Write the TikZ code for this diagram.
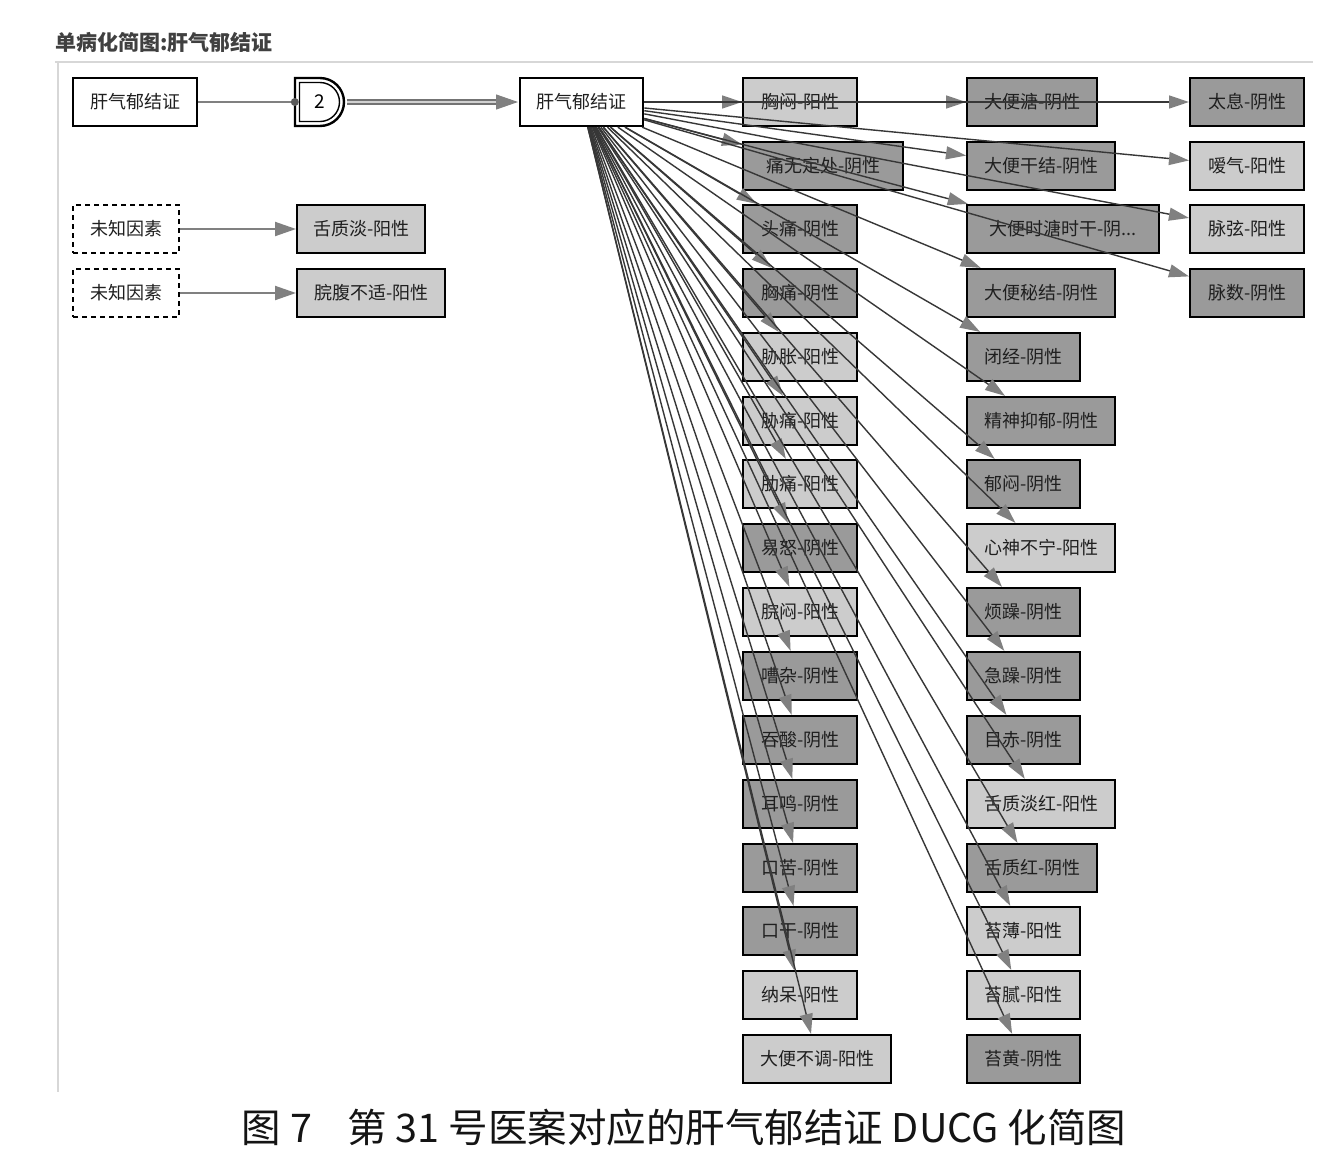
\documentclass[tikz,border=0pt]{standalone}
\usepackage{fontspec}
\setmainfont{Noto Sans CJK SC}
\usetikzlibrary{arrows.meta,calc}
\definecolor{lightfill}{RGB}{204,204,204}
\definecolor{darkfill}{RGB}{154,154,154}
\definecolor{arrowgray}{RGB}{128,128,128}
\definecolor{linegray}{RGB}{55,55,55}
\definecolor{framegray}{RGB}{215,215,215}
\begin{document}
\begin{tikzpicture}[x=1pt,y=-1pt,
  box/.style={draw=black, line width=2.3pt, minimum height=48pt, inner sep=0pt, anchor=west,
              font=\fontsize{18}{18}\selectfont, text=black!88},
  posbox/.style={box, fill=lightfill},
  negbox/.style={box, fill=darkfill},
  plainbox/.style={box, fill=white},
  unknownbox/.style={box, fill=white, dash pattern=on 5pt off 4pt, line width=2.4pt},
  symedge/.style={draw=linegray, line width=1.4pt, -{Triangle[length=20pt,width=13pt,color=arrowgray]}},
  softedge/.style={draw=arrowgray, line width=2pt, -{Triangle[length=21pt,width=14pt,color=arrowgray]}}
]
\useasboundingbox (0,0) rectangle (1323,1168);
\fill[white] (0,0) rectangle (1323,1168);

% title and frame
\node[anchor=west, font=\bfseries\fontsize{21}{21}\selectfont, text=black!75, inner sep=0pt] (title) at (55,42) {单病化简图:肝气郁结证};
\draw[framegray, line width=1.5pt] (55,62) -- (1313,62);
\draw[framegray, line width=1.5pt] (58,62) -- (58,1092);

% left part
\node[plainbox, minimum width=124pt] (A) at (72,102) {肝气郁结证};
\node[minimum width=50pt, minimum height=48pt, inner sep=0pt, font=\fontsize{19}{19}\selectfont] (G) at (320,102) {2};
\draw[line width=2.4pt] (295,78) -- (320,78) arc[start angle=-90, end angle=90, radius=24] -- (295,126) -- cycle;
\draw[line width=1.4pt] (299.5,82.5) -- (320,82.5) arc[start angle=-90, end angle=90, radius=19.5] -- (299.5,121.5) -- cycle;
\node[plainbox, minimum width=123pt] (M) at (519,102) {肝气郁结证};

\node[unknownbox, minimum width=106pt] (U1) at (72,229) {未知因素};
\node[posbox, minimum width=128pt] (S1) at (296,229) {舌质淡-阳性};
\node[unknownbox, minimum width=106pt] (U2) at (72,293) {未知因素};
\node[posbox, minimum width=148pt] (S2) at (296,293) {脘腹不适-阳性};

% left column
\node[posbox, minimum width=114pt] (l1) at (742,102) {胸闷-阳性};
\node[negbox, minimum width=160pt] (l2) at (742,166) {痛无定处-阴性};
\node[negbox, minimum width=114pt] (l3) at (742,229) {头痛-阴性};
\node[negbox, minimum width=114pt] (l4) at (742,293) {胸痛-阴性};
\node[posbox, minimum width=114pt] (l5) at (742,357) {胁胀-阳性};
\node[posbox, minimum width=114pt] (l6) at (742,421) {胁痛-阳性};
\node[posbox, minimum width=114pt] (l7) at (742,484) {肋痛-阳性};
\node[negbox, minimum width=114pt] (l8) at (742,548) {易怒-阴性};
\node[posbox, minimum width=114pt] (l9) at (742,612) {脘闷-阳性};
\node[negbox, minimum width=114pt] (l10) at (742,676) {嘈杂-阴性};
\node[negbox, minimum width=114pt] (l11) at (742,740) {吞酸-阴性};
\node[negbox, minimum width=114pt] (l12) at (742,804) {耳鸣-阴性};
\node[negbox, minimum width=114pt] (l13) at (742,868) {口苦-阴性};
\node[negbox, minimum width=114pt] (l14) at (742,931) {口干-阴性};
\node[posbox, minimum width=114pt] (l15) at (742,995) {纳呆-阳性};
\node[posbox, minimum width=148pt] (l16) at (742,1059) {大便不调-阳性};

% middle column
\node[negbox, minimum width=130pt] (m1) at (966,102) {大便溏-阴性};
\node[negbox, minimum width=148pt] (m2) at (966,166) {大便干结-阴性};
\node[negbox, minimum width=192pt] (m3) at (966,229) {大便时溏时干-阴...};
\node[negbox, minimum width=148pt] (m4) at (966,293) {大便秘结-阴性};
\node[negbox, minimum width=113pt] (m5) at (966,357) {闭经-阴性};
\node[negbox, minimum width=148pt] (m6) at (966,421) {精神抑郁-阴性};
\node[negbox, minimum width=113pt] (m7) at (966,484) {郁闷-阴性};
\node[posbox, minimum width=148pt] (m8) at (966,548) {心神不宁-阳性};
\node[negbox, minimum width=113pt] (m9) at (966,612) {烦躁-阴性};
\node[negbox, minimum width=113pt] (m10) at (966,676) {急躁-阴性};
\node[negbox, minimum width=113pt] (m11) at (966,740) {目赤-阴性};
\node[posbox, minimum width=148pt] (m12) at (966,804) {舌质淡红-阳性};
\node[negbox, minimum width=130pt] (m13) at (966,868) {舌质红-阴性};
\node[posbox, minimum width=113pt] (m14) at (966,931) {苔薄-阳性};
\node[posbox, minimum width=113pt] (m15) at (966,995) {苔腻-阳性};
\node[negbox, minimum width=113pt] (m16) at (966,1059) {苔黄-阴性};

% right column
\node[negbox, minimum width=114pt] (r1) at (1189,102) {太息-阴性};
\node[posbox, minimum width=114pt] (r2) at (1189,166) {嗳气-阳性};
\node[posbox, minimum width=114pt] (r3) at (1189,229) {脉弦-阳性};
\node[negbox, minimum width=114pt] (r4) at (1189,293) {脉数-阴性};

% connectors
\draw[arrowgray, line width=1.6pt] (A) -- (G.west);
\fill[black!65] (G.west) circle[radius=4pt];
\draw[arrowgray!90!black, line width=6pt, shorten >=18pt] ($(G.east)+(2,0)$) -- (M.west);
\draw[black!18, line width=1.6pt, shorten >=18pt] ($(G.east)+(2,0)$) -- (M.west);
\draw[arrowgray, line width=1pt, -{Triangle[length=22pt,width=15pt,color=arrowgray]}] ($(M.west)+(-23,0)$) -- ($(M.west)+(-1,0)$);

\draw[softedge] (U1) -- (S1);
\draw[softedge] (U2) -- (S2);

\foreach \i in {1,...,16} \draw[symedge] (M) -- (l\i);
\foreach \i in {1,...,16} \draw[symedge] (M) -- (m\i);
\foreach \i in {1,...,4} \draw[symedge] (M) -- (r\i);

% caption
\node[font=\fontsize{39.5}{40}\selectfont, text=black!92, inner sep=0pt] (cap) at (684,1127) {图 7\hspace{0.9em}第 31 号医案对应的肝气郁结证 DUCG 化简图};
\end{tikzpicture}
\end{document}
